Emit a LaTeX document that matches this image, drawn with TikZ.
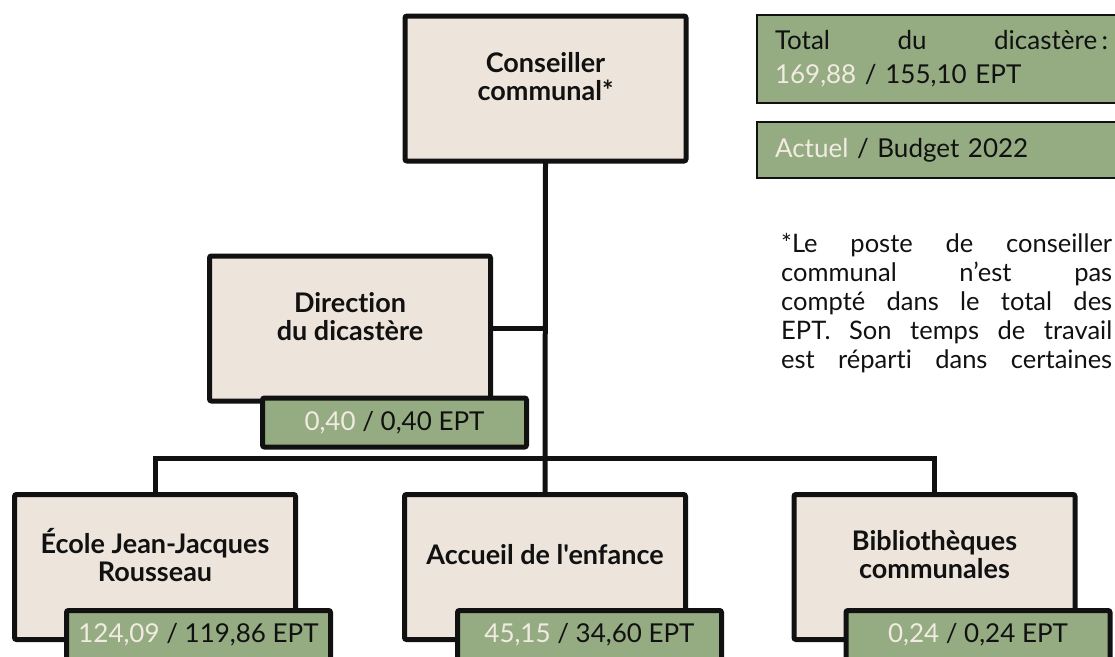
\documentclass[tikz,border=0pt]{standalone}
\usepackage{fontspec}
\newfontfamily\lato{Lato}[Ligatures=NoCommon]
\usetikzlibrary{positioning}

\definecolor{beige}{HTML}{EDE4DB}
\definecolor{sage}{HTML}{95AB82}
\definecolor{pale}{HTML}{F1EBE2}
\definecolor{ink}{HTML}{111111}
\newcommand{\cur}[1]{\textcolor{pale}{#1}}

\begin{document}
\lato
\begin{tikzpicture}[x=1pt,y=-1pt]
        \tikzstyle{unit} = [rectangle, draw=ink, line width=5pt, fill=beige, rounded corners=2pt, minimum width=281pt, minimum height=145pt, outer sep=0pt]
        \tikzstyle{ept} = [rectangle, draw=ink, line width=5pt, fill=sage, rounded corners=2pt, minimum width=264pt, minimum height=49pt, outer sep=0pt, anchor=north west, font=\lato\fontsize{26}{30}\selectfont, text=ink]
        \tikzstyle{title} = [align=center, font=\lato\fontsize{27}{28}\selectfont\bfseries, text=ink]
        \tikzstyle{legend} = [rectangle, draw=ink, line width=1.5pt, fill=sage, anchor=north west, outer sep=0pt, inner xsep=18pt, align=left, text width=333pt, font=\lato\fontsize{26}{34}\selectfont, text=ink]
        \tikzstyle{link} = [line width=5pt, draw=ink]

        \useasboundingbox (0,0) rectangle (1115,656);
        \clip (0,0) rectangle (1115,656);

        \node (top) [unit] at (545.5,88.5) {};
        \node (dir) [unit] at (350,328.5) {};
        \node (ecole) [unit] at (155,567) {};
        \node (accueil) [unit] at (545,567) {};
        \node (biblio) [unit] at (934.5,567) {};

        \node (topname) [title] at ([yshift=12pt]top.center) {Conseiller\\communal*};
        \node (dirname) [title] at ([yshift=12pt]dir.center) {Direction\\du dicastère};
        \node (ecolename) [title] at ([yshift=12pt]ecole.center) {École Jean-Jacques\\Rousseau};
        \node (accueilname) [title] at ([yshift=12pt]accueil.center) {Accueil de l'enfance};
        \node (biblioname) [title] at ([yshift=12pt]biblio.center) {Bibliothèques\\communales};

        \node (dirept) [ept] at ([xshift=53pt,yshift=3pt]dir.south west) {\cur{0,40} / 0,40 EPT};
        \node (ecoleept) [ept] at ([xshift=52pt,yshift=29pt]ecole.south west) {\cur{124,09} / 119,86 EPT};
        \node (accueilept) [ept] at ([xshift=53pt,yshift=29pt]accueil.south west) {\cur{45,15} / 34,60 EPT};
        \node (biblioept) [ept] at ([xshift=52pt,yshift=29pt]biblio.south west) {\cur{0,24} / 0,24 EPT};

        \coordinate (bus) at (545,458);
        \draw [link] (top.south) -- (accueil.north);
        \draw [link] (dir.east) -- (dir.east -| top.south);
        \draw [link] (ecole.north) |- (bus) -| (biblio.north);

        \node (total) [legend, minimum height=88pt] at (757,15) {\makebox[333pt][l]{Total\hfill du\hfill dicastère\,:}\\\cur{169,88} / 155,10 EPT};
        \node (key) [legend, minimum height=56pt] at (757,122) {\cur{Actuel} / Budget 2022};

        \node (note) [anchor=north west, inner sep=0pt, align=left, font=\lato\fontsize{25.5}{29}\selectfont, text=ink] at (781,233) {\makebox[331pt][s]{*Le poste de conseiller}\\\makebox[331pt][s]{communal n’est pas}\\\makebox[331pt][s]{compté dans le total des}\\\makebox[331pt][s]{EPT. Son temps de travail}\\\makebox[331pt][s]{est réparti dans certaines}};
    \end{tikzpicture}
\end{document}
